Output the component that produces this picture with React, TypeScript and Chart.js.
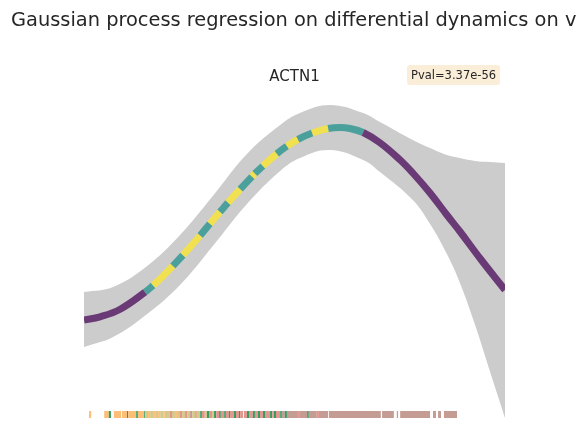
import { useEffect, useRef } from "react";
import { Chart, registerables } from "chart.js";

Chart.register(...registerables);

// ---- data ----
const titleText = "Gaussian process regression on differential dynamics on v";
const geneName = "ACTN1";
const pvalText = "Pval=3.37e-56";

// GP mean curve (pseudotime 0..100)
const meanX = [0, 3.8, 8.6, 14.5, 16.4, 18.8, 21.1, 23.5, 27.6, 29.9, 32.3, 34.2, 37.1, 39.9, 40.6, 42.5, 45.8, 48.2, 50.8, 54.2, 58.0, 60.8, 63.2, 66.3, 70.3, 75.1, 78.1, 82.2, 86.2, 89.3, 94.1, 100];
const meanY = [1.000, 1.032, 1.108, 1.278, 1.346, 1.441, 1.541, 1.649, 1.845, 1.963, 2.081, 2.174, 2.308, 2.434, 2.464, 2.540, 2.663, 2.738, 2.806, 2.870, 2.915, 2.925, 2.915, 2.875, 2.773, 2.600, 2.470, 2.270, 2.050, 1.885, 1.615, 1.300];
// level of each segment between consecutive mean points
const meanLevel = [
  "low", "low", "low", "mid", "high", "high", "mid", "high", "mid", "high",
  "mid", "high", "mid", "high", "mid", "high", "mid", "high", "mid", "high",
  "mid", "mid", "mid", "low", "low", "low", "low", "low", "low", "low", "low",
];

// confidence band
const bandX = [0, 6.9, 15.0, 22.8, 30.6, 38.7, 46.6, 51.3, 58.4, 66.3, 70.3, 78.1, 82.2, 86.2, 89.3, 92.9, 96.4, 100];
const bandUpper = [1.28, 1.33, 1.54, 1.85, 2.24, 2.66, 2.95, 3.07, 3.15, 3.07, 2.98, 2.80, 2.72, 2.65, 2.62, 2.59, 2.58, 2.57];
const bandLower = [0.73, 0.83, 1.06, 1.35, 1.74, 2.16, 2.49, 2.62, 2.70, 2.60, 2.48, 2.20, 1.96, 1.66, 1.37, 0.95, 0.49, 0.02];

// rug of cells: spans [start, end] and cluster
const rugStart = [1.2, 4.8, 5.9, 7.1, 8.8, 9.0, 10.2, 10.5, 12.4, 12.8, 14.3, 14.5, 15.2, 15.7, 16.4, 16.9, 17.6, 18.1, 18.8, 19.2, 20.4, 20.9, 21.6, 22.1, 22.8, 23.3, 24.0, 24.5, 25.2, 25.7, 26.4, 26.8, 27.6, 28.0, 28.7, 29.2, 29.7, 30.4, 30.9, 31.4, 32.1, 32.5, 33.3, 33.7, 34.4, 34.7, 35.6, 36.1, 36.8, 37.1, 37.8, 38.0, 38.7, 39.2, 40.1, 40.6, 41.3, 41.8, 42.5, 43.0, 44.2, 44.7, 45.1, 45.6, 46.6, 47.0, 47.7, 48.2, 50.6, 51.1, 53.0, 53.4, 55.3, 55.8, 58.2, 70.8, 74.3, 75.1, 82.9, 84.1, 85.5];
const rugEnd = [1.7, 5.9, 6.4, 8.8, 9.0, 10.2, 10.5, 12.4, 12.8, 14.3, 14.5, 15.2, 15.7, 16.4, 16.9, 17.6, 18.1, 18.8, 19.2, 20.4, 20.9, 21.6, 22.1, 22.8, 23.3, 24.0, 24.5, 25.2, 25.7, 26.4, 26.8, 27.6, 28.0, 28.7, 29.2, 29.7, 30.4, 30.9, 31.4, 32.1, 32.5, 33.3, 33.7, 34.4, 34.7, 35.6, 36.1, 36.8, 37.1, 37.8, 38.0, 38.7, 39.2, 40.1, 40.6, 41.3, 41.8, 42.5, 43.0, 44.2, 44.7, 45.1, 45.6, 46.6, 47.0, 47.7, 48.2, 50.6, 51.1, 53.0, 53.4, 55.3, 55.8, 58.0, 70.5, 73.6, 74.6, 82.2, 83.6, 84.8, 88.6];
const rugCluster = [
  "c0", "c0", "c1", "c0", "c1", "c0", "c1", "c0", "c1", "c0", "c1",
  "c2", "c0", "c2", "c0", "c2", "c0", "c2", "c0", "c2", "c3", "c2", "c0", "c2", "c3", "c2", "c3", "c2", "c4", "c2", "c3", "c2",
  "c1", "c3", "c2", "c1", "c3", "c2", "c1", "c3", "c1", "c3", "c1", "c3", "c1", "c3", "c1", "c3", "c1", "c3", "c1", "c3", "c1", "c3", "c1", "c3", "c1", "c3", "c1", "c3", "c1", "c3", "c1", "c3", "c1",
  "c4", "c1", "c4", "c3", "c4", "c1", "c4", "c3", "c4", "c4", "c4", "c4", "c4", "c4", "c4", "c4",
];
const rugLevel = 0.055;

// ---- styles ----
const levelColors: Record<string, string> = {
  low: "rgba(68,1,84,0.72)",
  mid: "rgba(33,145,140,0.75)",
  high: "rgba(253,231,37,0.75)",
};
const clusterColors: Record<string, string> = {
  c0: "#fdbf78",
  c1: "#329d62",
  c2: "#d5c98a",
  c3: "#e5968c",
  c4: "#c49c94",
};

const textPlugin = {
  id: "texts",
  afterDraw(chart: Chart) {
    const ctx = chart.ctx;
    ctx.save();
    ctx.fillStyle = "#262626";
    ctx.textBaseline = "alphabetic";
    ctx.font = '19.4px "DejaVu Sans"';
    ctx.textAlign = "left";
    ctx.fillText(titleText, 11, 26);
    ctx.font = '15px "DejaVu Sans"';
    ctx.textAlign = "center";
    const ca = chart.chartArea;
    ctx.fillText(geneName, (ca.left + ca.right) / 2, 81);
    // p-value box
    ctx.font = '11.5px "DejaVu Sans"';
    ctx.textAlign = "left";
    const w = ctx.measureText(pvalText).width;
    const bx = 407, by = 65, bw = w + 8, bh = 20;
    ctx.fillStyle = "#faeed9";
    ctx.beginPath();
    ctx.roundRect(bx, by, bw, bh, 3);
    ctx.fill();
    ctx.fillStyle = "#262626";
    ctx.fillText(pvalText, bx + 4, 79);
    ctx.restore();
  },
};

export default function App() {
  const canvasRef = useRef<HTMLCanvasElement | null>(null);

  useEffect(() => {
    document.body.style.margin = "0";
    const canvas = canvasRef.current;
    if (!canvas) return;

    const meanData = meanX.map((x, i) => ({ x, y: meanY[i] }));
    const upperData = bandX.map((x, i) => ({ x, y: bandUpper[i] }));
    const lowerData = bandX.map((x, i) => ({ x, y: bandLower[i] }));
    const rugData: { x: number; y: number | null }[] = [];
    rugStart.forEach((s, i) => {
      rugData.push({ x: s, y: rugLevel });
      rugData.push({ x: rugEnd[i], y: rugLevel });
      rugData.push({ x: rugEnd[i], y: null });
    });

    const chart = new Chart(canvas, {
      type: "line",
      data: {
        datasets: [
          {
            label: "mean",
            data: meanData,
            borderWidth: 7,
            borderCapStyle: "butt",
            pointRadius: 0,
            tension: 0.4,
            borderColor: levelColors.low,
            segment: {
              borderColor: (c: any) => levelColors[meanLevel[c.p0DataIndex]],
            },
            fill: false,
          },
          {
            label: "rug",
            data: rugData as any,
            borderWidth: 7,
            borderCapStyle: "butt",
            pointRadius: 0,
            spanGaps: false,
            tension: 0,
            borderColor: clusterColors.c0,
            segment: {
              borderColor: (c: any) => clusterColors[rugCluster[Math.floor(c.p0DataIndex / 3)]],
            },
            fill: false,
          },
          {
            label: "upper",
            data: upperData,
            borderWidth: 0,
            pointRadius: 0,
            tension: 0.4,
            borderColor: "rgba(0,0,0,0)",
            fill: false,
          },
          {
            label: "lower",
            data: lowerData,
            borderWidth: 0,
            pointRadius: 0,
            tension: 0.4,
            borderColor: "rgba(0,0,0,0)",
            backgroundColor: "#cccccc",
            fill: "-1",
          },
        ],
      },
      options: {
        responsive: false,
        animation: false,
        devicePixelRatio: 1,
        layout: { padding: { left: 84, right: 83, top: 95, bottom: 26 } },
        plugins: {
          legend: { display: false },
          tooltip: { enabled: false },
          title: { display: false },
        },
        scales: {
          x: { type: "linear", min: 0, max: 100, display: false },
          y: { type: "linear", min: 0, max: 3.25, display: false },
        },
      },
      plugins: [textPlugin],
    });

    return () => chart.destroy();
  }, []);

  return (
    <div style={{ position: "absolute", left: 0, top: 0, width: 588, height: 446, background: "#ffffff" }}>
      <canvas ref={canvasRef} width={588} height={446} />
    </div>
  );
}
